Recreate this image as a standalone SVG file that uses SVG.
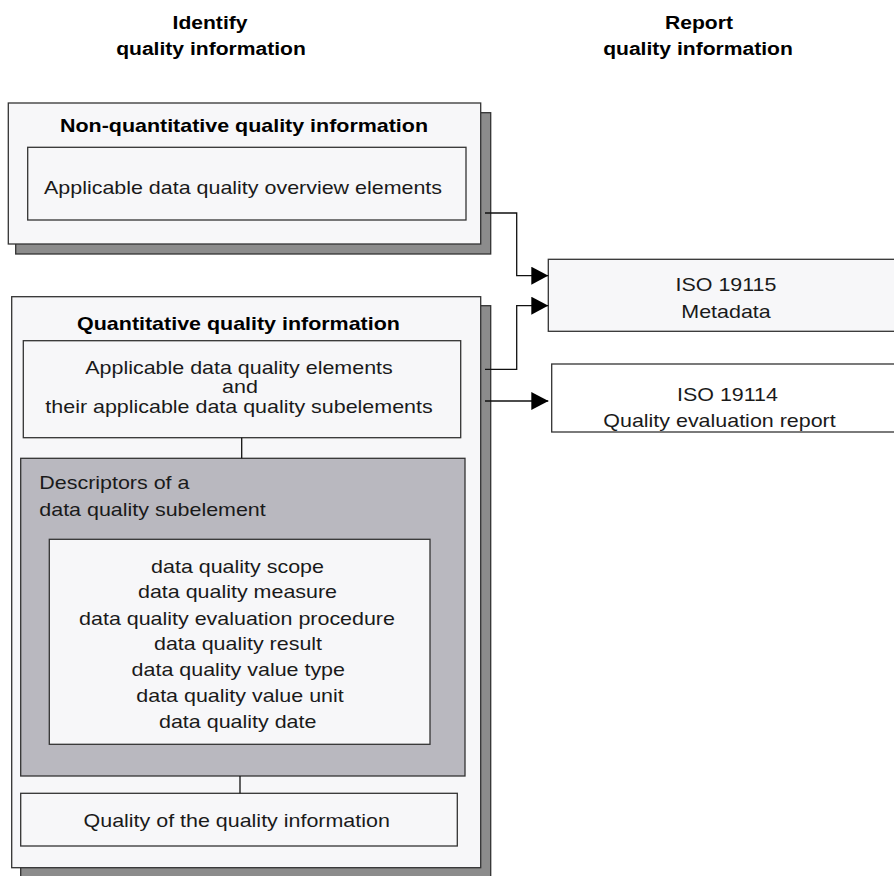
<svg xmlns="http://www.w3.org/2000/svg" width="894" height="876" viewBox="0 0 894 876">
<style>
  text { font-family: "Liberation Sans", Arial, sans-serif; font-size: 18.5px; fill: #1a1a1a; text-anchor: middle; }
  .b { font-weight: bold; fill: #000; }
  .l { text-anchor: start; }
  .box { fill: #f7f7f9; stroke: #333; stroke-width: 1.3; }
  .wbox { fill: #ffffff; stroke: #333; stroke-width: 1.3; }
  .shadow { fill: #8c8c8c; stroke: #333; stroke-width: 1.3; }
  .gray { fill: #b9b8bf; stroke: #333; stroke-width: 1.3; }
  .conn { fill: none; stroke: #111; stroke-width: 1.3; }
</style>
<defs>
  <marker id="arr" viewBox="0 0 17 18" refX="17" refY="9" markerWidth="17" markerHeight="18" markerUnits="userSpaceOnUse" orient="auto">
    <path d="M0,0 L17,9 L0,18 Z" fill="#000"/>
  </marker>
</defs>
<rect width="894" height="876" fill="#fff"/>

<g id="header-identify">
  <text class="b" transform="translate(210,28.5) scale(1.14,1)">Identify</text>
  <text class="b" transform="translate(211,55) scale(1.14,1)">quality information</text>
</g>
<g id="header-report">
  <text class="b" transform="translate(699,28.5) scale(1.14,1)">Report</text>
  <text class="b" transform="translate(698,55) scale(1.14,1)">quality information</text>
</g>

<g id="non-quantitative">
  <rect class="shadow" x="15.7" y="112.7" width="475" height="141.3"/>
  <rect class="box" x="8.3" y="103" width="472.4" height="141"/>
  <text class="b" transform="translate(244,132) scale(1.16,1)">Non-quantitative quality information</text>
  <g id="overview-elements">
    <rect class="box" x="27.7" y="147.3" width="438.3" height="72.7"/>
    <text transform="translate(243,193.5) scale(1.16,1)">Applicable data quality overview elements</text>
  </g>
</g>

<g id="quantitative">
  <rect class="shadow" x="20.7" y="305.7" width="470" height="580"/>
  <rect class="box" x="11.7" y="296.7" width="469" height="571"/>
  <text class="b" transform="translate(238.5,329.5) scale(1.16,1)">Quantitative quality information</text>
  <g id="applicable-elements">
    <rect class="box" x="23.3" y="340.7" width="437.4" height="97"/>
    <text transform="translate(239,373.5) scale(1.16,1)">Applicable data quality elements</text>
    <text transform="translate(240,393.3) scale(1.16,1)">and</text>
    <text transform="translate(239,412.7) scale(1.16,1)">their applicable data quality subelements</text>
  </g>
  <g id="descriptors">
    <rect class="gray" x="20.7" y="458.3" width="444.3" height="317.7"/>
    <text class="l" transform="translate(39.3,489.3) scale(1.16,1)">Descriptors of a</text>
    <text class="l" transform="translate(39.3,515.7) scale(1.16,1)">data quality subelement</text>
    <g id="descriptor-list">
      <rect class="box" x="49.3" y="539.3" width="380.7" height="205"/>
      <text transform="translate(237.5,572.5) scale(1.16,1)">data quality scope</text>
      <text transform="translate(237.5,598) scale(1.16,1)">data quality measure</text>
      <text transform="translate(237,624.5) scale(1.16,1)">data quality evaluation procedure</text>
      <text transform="translate(238,650.3) scale(1.16,1)">data quality result</text>
      <text transform="translate(238.3,676) scale(1.16,1)">data quality value type</text>
      <text transform="translate(240,701.8) scale(1.16,1)">data quality value unit</text>
      <text transform="translate(237.7,727.5) scale(1.16,1)">data quality date</text>
    </g>
  </g>
  <g id="quality-of-quality">
    <rect class="box" x="20.7" y="793.3" width="436.6" height="52.7"/>
    <text transform="translate(236.7,827.3) scale(1.16,1)">Quality of the quality information</text>
  </g>
</g>

<g id="iso19115">
  <rect class="box" x="548.3" y="259.3" width="360" height="72"/>
  <text transform="translate(726,290.7) scale(1.16,1)">ISO 19115</text>
  <text transform="translate(726,318.3) scale(1.16,1)">Metadata</text>
</g>

<g id="iso19114">
  <rect class="wbox" x="551.7" y="364" width="360" height="68"/>
  <text transform="translate(727.5,400.7) scale(1.16,1)">ISO 19114</text>
  <text transform="translate(719.5,426.7) scale(1.16,1)">Quality evaluation report</text>
</g>

<g id="connectors">
  <path class="conn" d="M485,213 H516.7 V275.7 H548.3" marker-end="url(#arr)"/>
  <path class="conn" d="M485,369.3 H516.7 V305.7 H548.3" marker-end="url(#arr)"/>
  <path class="conn" d="M485,401 H548.3" marker-end="url(#arr)"/>
  <path class="conn" d="M241.7,437.7 V458.3"/>
  <path class="conn" d="M240,776 V793.3"/>
</g>
</svg>
